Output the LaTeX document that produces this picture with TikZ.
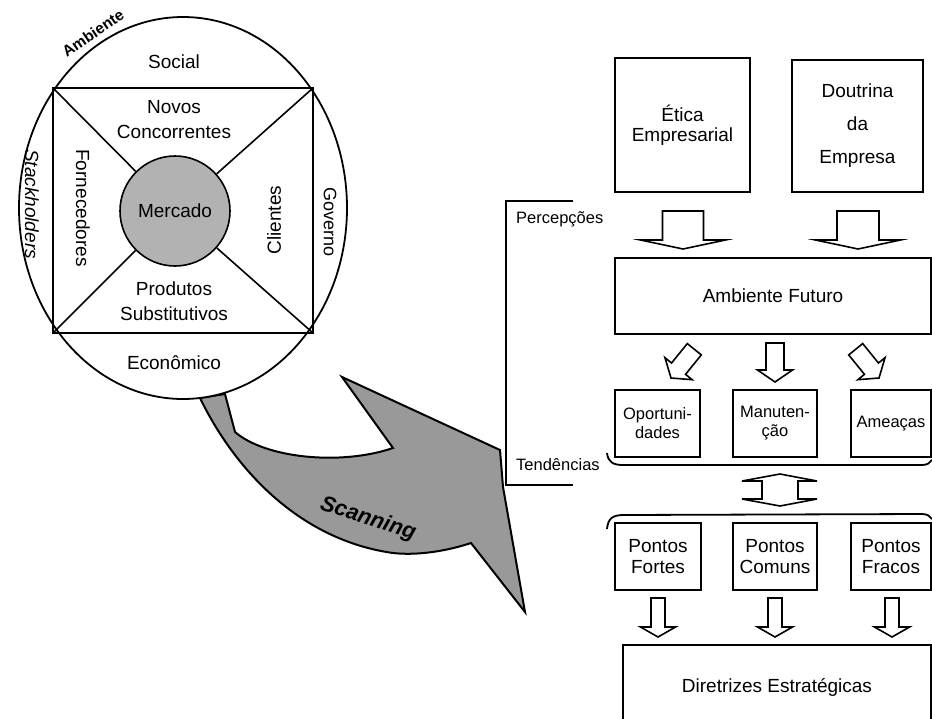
\documentclass[tikz,border=0pt]{standalone}
\usepackage{fontspec}
\setmainfont{Liberation Sans}
\usetikzlibrary{calc}
\begin{document}
\begin{tikzpicture}[x=1pt,y=-1pt,
  line join=miter,
  frame/.style={draw, line width=1.8pt, inner sep=0pt},
  bigtext/.style={font=\fontsize{19}{21}\selectfont, align=center},
  smalltext/.style={font=\fontsize{16.5}{19}\selectfont, align=center},
  sidetext/.style={font=\fontsize{16.5}{19}\selectfont, anchor=west, inner sep=0pt},
  ringtext/.style={font=\fontsize{19}{25}\selectfont, align=center, inner sep=0pt},
  thinline/.style={line width=1.8pt},
  pics/darrow/.style n args={4}{code={%
    \draw[line width=1.6pt, fill=white] (0,0) -- (#2,-#3) -- (#1,-#3) -- (#1,-#4)
      -- (-#1,-#4) -- (-#1,-#3) -- (-#2,-#3) -- cycle;}}
]
\useasboundingbox (0,0) rectangle (932,718);

% ---------- right-hand flow ----------
\node[frame, bigtext, minimum width=135pt, minimum height=134pt] (etica) at (682.5,125)
  {Ética\\[-1pt]Empresarial};
\node[frame, bigtext, minimum width=131pt, minimum height=132pt] (doutrina) at (857.5,126)
  {Doutrina\\[12pt]da\\[12pt]Empresa};
\node[frame, bigtext, minimum width=316pt, minimum height=76pt] (futuro) at (773,296)
  {Ambiente Futuro};

\node[frame, smalltext, minimum width=85pt, minimum height=67pt] (oport) at (657.5,423.5)
  {Oportuni-\\dades};
\node[frame, smalltext, minimum width=84pt, minimum height=67pt] (manut) at (775,423.5)
  {Manuten-\\ção};
\node[frame, smalltext, minimum width=80pt, minimum height=67pt] (ameacas) at (891,423.5)
  {Ameaças};

\node[frame, bigtext, minimum width=86pt, minimum height=67pt] (fortes) at (658,556.5)
  {Pontos\\Fortes};
\node[frame, bigtext, minimum width=84pt, minimum height=67pt] (comuns) at (775,556.5)
  {Pontos\\Comuns};
\node[frame, bigtext, minimum width=80pt, minimum height=67pt] (fracos) at (891,556.5)
  {Pontos\\Fracos};

\node[frame, minimum width=308pt, minimum height=85pt] (diretrizes) at (777,687.5) {};
\node[bigtext] (diretrizestxt) at (diretrizes.center) {Diretrizes Estratégicas};

% hollow block arrows: tip position, then half shaft, half head, head length, total length
\pic at (683,249) {darrow={20.5}{42.5}{9}{38}};
\pic at (858,249) {darrow={21}{42.5}{9}{38}};
\pic[rotate=-39] at (671,378) {darrow={9}{17.5}{12}{37}};
\pic at (775,382) {darrow={9}{17.5}{12}{39}};
\pic[rotate=39] at (879,378) {darrow={9}{17.5}{12}{37}};
\pic at (658,637) {darrow={7}{17.5}{10}{39}};
\pic at (775,637) {darrow={7}{17.5}{10}{39}};
\pic at (892,637) {darrow={7}{17.5}{10}{39}};

% two-way arrow between the rows
\draw[line width=1.6pt, fill=white] (780,474) -- (817,481) -- (798,481) -- (798,499)
  -- (817,499) -- (780,506) -- (742,499) -- (762,499) -- (762,481) -- (742,481) -- cycle;

% braces grouping the rows
\draw[thinline] (607,453) .. controls (608,462) and (613,465) .. (623,465)
  -- (922,465) .. controls (927,465) and (930,463) .. (932,460);
\draw[thinline] (607,529) .. controls (608,518) and (613,515) .. (624,515)
  -- (922,514) .. controls (927,514) and (930,516) .. (932,519);

% bracket with its labels
\coordinate (brtop) at (573,201);
\coordinate (brbot) at (573,485);
\draw[thinline] (brtop) -- (506,201) -- (506,485) -- (brbot);
\node[sidetext] (percep) at (516,219) {Percepções};
\node[sidetext] (tend) at (516,465) {Tendências};

% ---------- scanning arrow ----------
\draw[line width=2pt, fill=black!40]
  (200,398) .. controls (235,470) and (300,540) .. (393,553)
  .. controls (420,556) and (450,550) .. (471,543)
  -- (525,612) -- (503,487) -- (500,450) -- (342,377) -- (393,448)
  .. controls (340,466) and (265,458) .. (235,432) -- (225,394) -- cycle;
\node[font=\fontsize{22}{24}\selectfont\bfseries\itshape, rotate=-18] (scan) at (368,519) {Scanning};

% ---------- environment ellipse ----------
\draw[line width=1.8pt, fill=white] (183,208) ellipse [x radius=164, y radius=191];
\coordinate (sq1) at (53,88);
\coordinate (sq2) at (313,88);
\coordinate (sq3) at (313,333);
\coordinate (sq4) at (53,333);
\node[circle, draw, line width=1.6pt, fill=black!30, minimum size=110pt, inner sep=0pt] (mercado) at (175,211) {};
\draw[line width=1.6pt] (sq1) -- (sq2) -- (sq3) -- (sq4) -- cycle;
\draw[line width=1.6pt] (sq1) -- (mercado) (sq2) -- (mercado) (sq3) -- (mercado) (sq4) -- (mercado);
\node[ringtext] (mercadotxt) at (mercado.center) {Mercado};

\node[ringtext] (social) at (174,62) {Social};
\node[ringtext] (novos) at (174,120) {Novos\\Concorrentes};
\node[ringtext] (produtos) at (174,301) {Produtos\\Substitutivos};
\node[ringtext] (economico) at (174,363) {Econômico};
\node[ringtext, rotate=-90] (fornec) at (83,208) {Fornecedores};
\node[ringtext, rotate=90] (clientes) at (274,220) {Clientes};
\node[ringtext, rotate=-90, font=\fontsize{19}{21}\selectfont\itshape] (stack) at (32,204) {Stackholders};
\node[ringtext, rotate=-90, font=\fontsize{18}{20}\selectfont] (governo) at (330,222) {Governo};
\node[font=\fontsize{15.5}{17}\selectfont\bfseries, rotate=34, inner sep=0pt] (ambiente) at (93,33) {Ambiente};
\end{tikzpicture}
\end{document}
